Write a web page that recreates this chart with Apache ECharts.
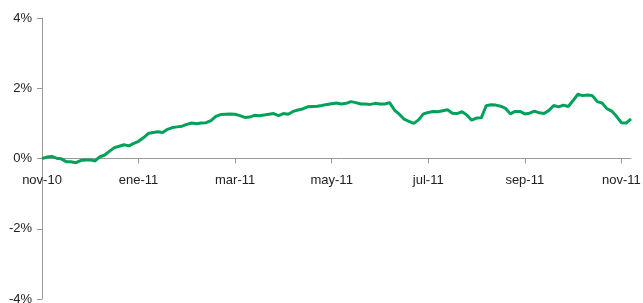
<!DOCTYPE html>
<html>
<head>
<meta charset="utf-8">
<script src="https://cdn.jsdelivr.net/npm/echarts@6/dist/echarts.min.js"></script>
<style>
  html, body { margin: 0; padding: 0; background: #fff; }
</style>
</head>
<body>
<div id="chart" style="width: 643px; height: 303px;"></div>
<script>
// tick labels, one every 20 points (two months)
var monthLabels = ["nov-10", "ene-11", "mar-11", "may-11", "jul-11", "sep-11", "nov-11"];
var labelStep = 20;

// cumulative return, %
var values = [
  0.00, 0.04, 0.06, 0.01, -0.01, -0.09, -0.09, -0.12, -0.06, -0.04,
  -0.04, -0.07, 0.05, 0.10, 0.21, 0.31, 0.35, 0.39, 0.36, 0.43,
  0.49, 0.59, 0.71, 0.74, 0.76, 0.74, 0.83, 0.88, 0.90, 0.92,
  0.97, 1.01, 0.99, 1.01, 1.02, 1.08, 1.20, 1.25, 1.26, 1.27,
  1.26, 1.22, 1.17, 1.18, 1.23, 1.22, 1.24, 1.26, 1.28, 1.22,
  1.28, 1.26, 1.34, 1.38, 1.41, 1.47, 1.48, 1.49, 1.51, 1.54,
  1.56, 1.58, 1.55, 1.57, 1.62, 1.59, 1.55, 1.55, 1.54, 1.57,
  1.55, 1.55, 1.59, 1.38, 1.26, 1.12, 1.06, 1.00, 1.10, 1.27,
  1.31, 1.34, 1.33, 1.36, 1.39, 1.29, 1.28, 1.33, 1.24, 1.09,
  1.15, 1.16, 1.50, 1.53, 1.52, 1.49, 1.43, 1.27, 1.34, 1.34,
  1.27, 1.29, 1.35, 1.30, 1.28, 1.37, 1.51, 1.47, 1.52, 1.48,
  1.65, 1.83, 1.79, 1.81, 1.79, 1.62, 1.58, 1.42, 1.35, 1.20,
  1.02, 1.01, 1.13
];

var yTicks = [-4, -2, 0, 2, 4];

var categories = values.map(function (v, i) {
  return i % labelStep === 0 ? (monthLabels[i / labelStep] || "") : "";
});

function isMonthTick(index) {
  return index % labelStep === 0 && index / labelStep < monthLabels.length;
}

var plotTop = 18;
var plotBottom = 4;
var plotHeight = 303 - plotTop - plotBottom;

var chart = echarts.init(document.getElementById("chart"));
chart.setOption({
  animation: false,
  grid: {
    left: 42,
    right: 12,
    top: plotTop,
    bottom: plotBottom,
    containLabel: false,
    outerBoundsMode: "none"
  },
  xAxis: {
    type: "category",
    boundaryGap: false,
    data: categories,
    // move the whole axis (line, ticks, labels) up to the 0% level
    offset: -plotHeight / 2,
    axisLine: {
      onZero: false,
      lineStyle: { color: "#9a9a9a", width: 1 }
    },
    axisTick: {
      show: true,
      interval: isMonthTick,
      length: 5,
      lineStyle: { color: "#9a9a9a" }
    },
    axisLabel: {
      interval: isMonthTick,
      margin: 15,
      color: "#222",
      fontFamily: "Liberation Sans, Arial, sans-serif",
      fontSize: 13
    },
    splitLine: { show: false }
  },
  yAxis: {
    type: "value",
    min: yTicks[0],
    max: yTicks[yTicks.length - 1],
    interval: 2,
    axisLine: {
      show: true,
      lineStyle: { color: "#9a9a9a", width: 1 }
    },
    axisTick: {
      show: true,
      length: 5,
      lineStyle: { color: "#9a9a9a" }
    },
    axisLabel: {
      formatter: "{value}%",
      margin: 10,
      color: "#222",
      fontFamily: "Liberation Sans, Arial, sans-serif",
      fontSize: 13
    },
    splitLine: { show: false }
  },
  series: [
    {
      type: "line",
      data: values,
      showSymbol: false,
      smooth: false,
      lineStyle: { color: "#00a25a", width: 3 },
      itemStyle: { color: "#00a25a" }
    }
  ]
});
</script>
</body>
</html>
